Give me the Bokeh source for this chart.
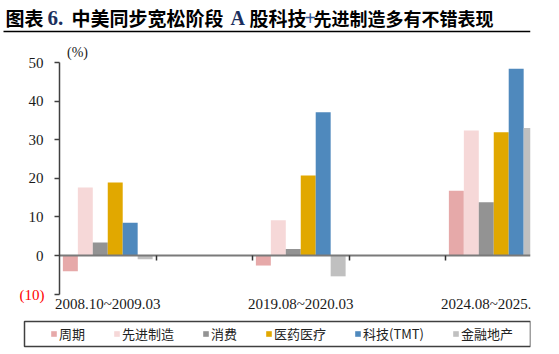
from bokeh.plotting import figure
from bokeh.models import (Range1d, LinearAxis, FixedTicker, Legend, LegendItem,
                          ColumnDataSource, Label, Arrow, BoxAnnotation)
from bokeh.embed import file_html
from bokeh.resources import INLINE

# ---- data ----
periods = ["2008.10~2009.03", "2019.08~2020.03", "2024.08~2025.03"]
period_pos = [0.5, 2.5, 4.5]
series = ["周期", "先进制造", "消费", "医药医疗", "科技(TMT)", "金融地产"]
colors = ["#E6A9A9", "#F6D8D8", "#939393", "#E1A800", "#4F89BD", "#C0C0C0"]
cyclical = [-4.1, -2.6, 16.8]
adv_mfg = [17.6, 9.1, 32.4]
consumer = [3.4, 1.7, 13.8]
pharma = [18.9, 20.7, 31.9]
tech = [8.5, 37.1, 48.4]
finance = [-1.0, -5.4, 33.0]
values = [cyclical, adv_mfg, consumer, pharma, tech, finance]
y_ticks = [-10, 0, 10, 20, 30, 40, 50]
y_min, y_max = -10, 50
x_separators = [1, 2, 3, 4]

# ---- layout constants (pixels) ----
W, H = 559, 354
AX_X = 59          # canvas x of the y axis (data x = 0)
RIGHT = 530        # right edge of plotting area
Y0_PX, Y50_PX = 255, 62   # canvas y of 0 and 50
CAT_PX = 96.5      # width of one category slot
PX_PER_UNIT = (Y0_PX - Y50_PX) / 50.0

SERIF = "Liberation Serif"
CJK = "Noto Sans CJK SC"

x_start = -AX_X / CAT_PX
x_end = (RIGHT - AX_X) / CAT_PX
y_end = 50 + Y50_PX / PX_PER_UNIT
y_start = -(H - Y0_PX) / PX_PER_UNIT

p = figure(width=W, height=H, output_backend="svg", toolbar_location=None,
           x_range=Range1d(x_start, x_end), y_range=Range1d(y_start, y_end),
           x_axis_location=None, y_axis_location=None, title=None,
           min_border=0, min_border_left=0, min_border_top=0,
           min_border_bottom=0, min_border_right=W - RIGHT)
p.outline_line_color = None
p.grid.visible = False
p.background_fill_color = "white"
p.border_fill_color = "white"

# bars
bw = 0.155
renderers = []
for i, (name, col, vals) in enumerate(zip(series, colors, values)):
    xs = [c + (i - 2.5) * bw for c in period_pos]
    src = ColumnDataSource(dict(x=xs, top=vals))
    r = p.vbar(x="x", top="top", bottom=0, width=bw, source=src,
               fill_color=col, line_color=None)
    renderers.append(r)

# y axis pinned at x = 0
ya = LinearAxis(ticker=FixedTicker(ticks=y_ticks), fixed_location=0,
                bounds=(y_min, y_max), major_label_overrides={-10: " "})
ya.axis_line_color = "#404040"
ya.axis_line_width = 1.5
ya.major_tick_line_color = "#404040"
ya.major_tick_line_width = 1.5
ya.major_tick_in = 0
ya.major_tick_out = 5
ya.minor_tick_line_color = None
ya.major_label_standoff = 11
ya.major_label_text_font = SERIF
ya.major_label_text_font_size = "15px"
ya.major_label_text_color = "#1a1a1a"
p.add_layout(ya, "left")

# category labels pinned at the bottom of the value range
xa = LinearAxis(ticker=FixedTicker(ticks=period_pos), fixed_location=y_min,
                major_label_overrides={pos: lab for pos, lab in zip(period_pos, periods)})
xa.axis_line_color = None
xa.major_tick_line_color = None
xa.minor_tick_line_color = None
xa.major_tick_in = 0
xa.major_tick_out = 0
xa.major_label_standoff = 2
xa.major_label_text_font = SERIF
xa.major_label_text_font_size = "15px"
xa.major_label_text_color = "#1a1a1a"
p.add_layout(xa, "below")

# zero line with separator ticks
za = LinearAxis(ticker=FixedTicker(ticks=[], minor_ticks=x_separators),
                fixed_location=0, bounds=(0, x_end))
za.axis_line_color = "#7a7a7a"
za.axis_line_width = 2
za.major_label_text_font_size = "0px"
za.major_label_standoff = 0
za.minor_tick_line_color = "#333333"
za.minor_tick_line_width = 1.5
za.minor_tick_in = 0
za.minor_tick_out = 5
p.add_layout(za, "below")

# red (10) and unit label (screen units measured from bottom-left)
p.add_layout(Label(x=44, y=H - 294, x_units="screen", y_units="screen", text="(10)",
                   text_align="right", text_baseline="middle",
                   text_font=SERIF, text_font_size="15px", text_color="#FF0000"))
p.add_layout(Label(x=77, y=H - 52, x_units="screen", y_units="screen", text="(%)",
                   text_align="center", text_baseline="middle",
                   text_font=SERIF, text_font_size="14px", text_color="#1a1a1a"))

# title
ty = H - 17
title_parts = [
    ("图表", 5, CJK, "#000000", "19px"),
    ("6.", 47, SERIF, "#1B2F5E", "21px"),
    ("中美同步宽松阶段", 71, CJK, "#000000", "19px"),
    ("A", 230, SERIF, "#1B2F5E", "20px"),
    ("股科技", 249, CJK, "#000000", "19px"),
    ("+", 304, SERIF, "#2F5597", "20px"),
    ("先进制造多有不错表现", 313, CJK, "#000000", "18px"),
]
for txt, x0, font, col, size in title_parts:
    p.add_layout(Label(x=x0, y=ty, x_units="screen", y_units="screen", text=txt,
                       text_align="left", text_baseline="middle", text_font=font,
                       text_font_size=size, text_font_style="bold", text_color=col))
p.add_layout(Arrow(end=None, x_start=3, y_start=H - 31, x_end=RIGHT, y_end=H - 31,
                   start_units="screen", end_units="screen",
                   line_color="#000000", line_width=1.5))

# legend frame + legend
p.add_layout(BoxAnnotation(left=24, right=RIGHT, top=H - 321, bottom=H - 346,
                           left_units="screen", right_units="screen",
                           top_units="screen", bottom_units="screen",
                           fill_color=None, fill_alpha=0,
                           line_color="#404040", line_width=1.5, line_alpha=1))
items = [LegendItem(label=s, renderers=[r]) for s, r in zip(series, renderers)]
legend = Legend(items=items, orientation="horizontal", location=(50, H - 343),
                glyph_width=7, glyph_height=7, label_height=13, label_standoff=2,
                spacing=28, padding=2, margin=0,
                label_text_font=CJK, label_text_font_size="13px",
                label_text_color="#222222",
                border_line_color=None, background_fill_alpha=0)
p.add_layout(legend, "center")

open("out.html", "w").write(file_html(p, INLINE))
